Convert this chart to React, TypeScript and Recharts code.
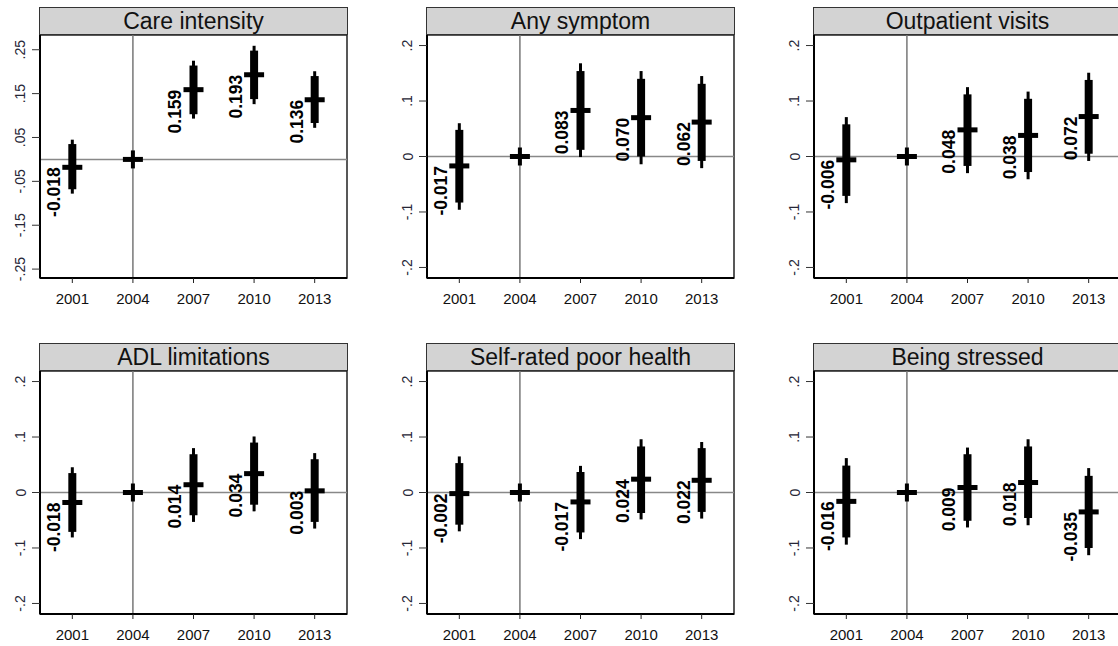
import React from 'react';
import { ComposedChart, Scatter, XAxis, YAxis, ErrorBar, ReferenceLine, ReferenceArea } from 'recharts';

const years = [2001, 2004, 2007, 2010, 2013];
const baseYear = 2004;

// Care intensity
const careEst = [-0.018, 0, 0.159, 0.193, 0.136];
const careLo95 = [-0.078, 0, 0.093, 0.126, 0.072];
const careHi95 = [0.045, 0, 0.225, 0.259, 0.201];
const careLo90 = [-0.068, 0, 0.103, 0.1375, 0.083];
const careHi90 = [0.035, 0, 0.214, 0.248, 0.19];

// Any symptom
const symEst = [-0.017, 0, 0.083, 0.07, 0.062];
const symLo95 = [-0.096, 0, -0.001, -0.014, -0.021];
const symHi95 = [0.06, 0, 0.168, 0.154, 0.145];
const symLo90 = [-0.083, 0, 0.012, 0.0, -0.008];
const symHi90 = [0.048, 0, 0.154, 0.14, 0.131];

// Outpatient visits
const outEst = [-0.006, 0, 0.048, 0.038, 0.072];
const outLo95 = [-0.084, 0, -0.03, -0.041, -0.008];
const outHi95 = [0.071, 0, 0.125, 0.117, 0.151];
const outLo90 = [-0.071, 0, -0.017, -0.028, 0.005];
const outHi90 = [0.058, 0, 0.112, 0.104, 0.138];

// ADL limitations
const adlEst = [-0.018, 0, 0.014, 0.034, 0.003];
const adlLo95 = [-0.081, 0, -0.053, -0.034, -0.065];
const adlHi95 = [0.0455, 0, 0.08, 0.101, 0.071];
const adlLo90 = [-0.071, 0, -0.041, -0.022, -0.053];
const adlHi90 = [0.035, 0, 0.069, 0.09, 0.06];

// Self-rated poor health
const srhEst = [-0.002, 0, -0.017, 0.024, 0.022];
const srhLo95 = [-0.07, 0, -0.084, -0.0485, -0.047];
const srhHi95 = [0.065, 0, 0.048, 0.096, 0.091];
const srhLo90 = [-0.058, 0, -0.072, -0.037, -0.035];
const srhHi90 = [0.053, 0, 0.037, 0.083, 0.08];

// Being stressed
const strEst = [-0.016, 0, 0.009, 0.018, -0.035];
const strLo95 = [-0.094, 0, -0.063, -0.059, -0.113];
const strHi95 = [0.062, 0, 0.081, 0.096, 0.044];
const strLo90 = [-0.081, 0, -0.051, -0.046, -0.1];
const strHi90 = [0.0485, 0, 0.069, 0.083, 0.03];

const careTicks = [-0.25, -0.15, -0.05, 0.05, 0.15, 0.25];
const careTickLabels = ['-.25', '-.15', '-.05', '.05', '.15', '.25'];
const stdTicks = [-0.2, -0.1, 0, 0.1, 0.2];
const stdTickLabels = ['-.2', '-.1', '0', '.1', '.2'];

const careDomain = [-0.2703, 0.2836];
const stdDomain = [-0.219, 0.219];
const xDomain = [1999.4, 2014.6];

const FONT = '"Liberation Sans", Arial, Helvetica, sans-serif';

type Panel = {
  title: string;
  est: number[];
  lo95: number[];
  hi95: number[];
  lo90: number[];
  hi90: number[];
  ticks: number[];
  tickLabels: string[];
  domain: number[];
};

const panels: Panel[] = [
  { title: 'Care intensity', est: careEst, lo95: careLo95, hi95: careHi95, lo90: careLo90, hi90: careHi90, ticks: careTicks, tickLabels: careTickLabels, domain: careDomain },
  { title: 'Any symptom', est: symEst, lo95: symLo95, hi95: symHi95, lo90: symLo90, hi90: symHi90, ticks: stdTicks, tickLabels: stdTickLabels, domain: stdDomain },
  { title: 'Outpatient visits', est: outEst, lo95: outLo95, hi95: outHi95, lo90: outLo90, hi90: outHi90, ticks: stdTicks, tickLabels: stdTickLabels, domain: stdDomain },
  { title: 'ADL limitations', est: adlEst, lo95: adlLo95, hi95: adlHi95, lo90: adlLo90, hi90: adlHi90, ticks: stdTicks, tickLabels: stdTickLabels, domain: stdDomain },
  { title: 'Self-rated poor health', est: srhEst, lo95: srhLo95, hi95: srhHi95, lo90: srhLo90, hi90: srhHi90, ticks: stdTicks, tickLabels: stdTickLabels, domain: stdDomain },
  { title: 'Being stressed', est: strEst, lo95: strLo95, hi95: strHi95, lo90: strLo90, hi90: strHi90, ticks: stdTicks, tickLabels: stdTickLabels, domain: stdDomain },
];

const Marker = (props: any) => {
  const { cx, cy, payload } = props;
  if (cx == null || cy == null) return null;
  const bx = cx - 12;
  return (
    <g>
      <rect x={cx - 10} y={cy - 2.5} width={20} height={5} fill="#000" />
      <rect x={cx - 2} y={cy - 9} width={4} height={18} fill="#000" />
      {payload.label ? (
        <text
          x={bx}
          y={cy}
          transform={`rotate(-90 ${bx} ${cy})`}
          textAnchor="end"
          fontFamily={FONT}
          fontWeight="bold"
          fontSize={17.5}
          fill="#000"
        >
          {payload.label}
        </text>
      ) : null}
    </g>
  );
};

const makeYTick = (ticks: number[], labels: string[]) => (props: any) => {
  const { x, y, payload } = props;
  const idx = ticks.findIndex((t) => Math.abs(t - payload.value) < 1e-9);
  const label = idx >= 0 ? labels[idx] : String(payload.value);
  const bx = x - 4.5;
  return (
    <text
      x={bx}
      y={y}
      transform={`rotate(-90 ${bx} ${y})`}
      textAnchor="middle"
      fontFamily={FONT}
      fontSize={14}
      fill="#262636"
    >
      {label}
    </text>
  );
};

const makeXTick = () => (props: any) => {
  const { x, y, payload } = props;
  return (
    <text x={x} y={y + 19} textAnchor="middle" fontFamily={FONT} fontSize={15} fill="#111">
      {payload.value}
    </text>
  );
};

const PANEL_W = 387;
const ROW_H = 336;
const CHART_H = 320;

function PanelChart({ p, col, row }: { p: Panel; col: number; row: number }) {
  const data = years.map((year, i) => ({
    year,
    est: p.est[i],
    e95: [p.est[i] - p.lo95[i], p.hi95[i] - p.est[i]],
    e90: [p.est[i] - p.lo90[i], p.hi90[i] - p.est[i]],
    label: year === baseYear ? null : p.est[i].toFixed(3),
  }));
  const left = col * PANEL_W;
  const top = row * ROW_H;
  return (
    <>
      <div style={{ position: 'absolute', left, top, width: PANEL_W, height: CHART_H }}>
        <ComposedChart width={PANEL_W} height={CHART_H} data={data} margin={{ top: 35, right: 40, bottom: 12, left: 0 }}>
          <XAxis
            type="number"
            dataKey="year"
            domain={xDomain}
            ticks={years}
            allowDataOverflow
            height={30}
            tickSize={5}
            tickMargin={2}
            axisLine={{ stroke: '#000', strokeWidth: 2 }}
            tickLine={{ stroke: '#222', strokeWidth: 1 }}
            tick={makeXTick()}
            interval={0}
          />
          <YAxis
            type="number"
            domain={p.domain}
            ticks={p.ticks}
            allowDataOverflow
            width={40}
            tickSize={8}
            tickMargin={2}
            axisLine={{ stroke: '#000', strokeWidth: 2 }}
            tickLine={{ stroke: '#333', strokeWidth: 1 }}
            tick={makeYTick(p.ticks, p.tickLabels)}
            interval={0}
          />
          <ReferenceArea x1={xDomain[0]} x2={xDomain[1]} y1={p.domain[0]} y2={p.domain[1]} fill="none" stroke="#222" strokeWidth={1.5} />
          <ReferenceLine x={baseYear} stroke="#777" strokeWidth={1.5} />
          <ReferenceLine y={0} stroke="#888" strokeWidth={1.5} />
          <Scatter dataKey="est" shape={<Marker />} isAnimationActive={false}>
            <ErrorBar dataKey="e95" direction="y" width={0} strokeWidth={3} stroke="#000" isAnimationActive={false} />
            <ErrorBar dataKey="e90" direction="y" width={0} strokeWidth={8} stroke="#000" isAnimationActive={false} />
          </Scatter>
        </ComposedChart>
      </div>
      <div
        style={{
          position: 'absolute',
          left: left + 39,
          top: top + 7,
          width: 309,
          height: 28,
          boxSizing: 'border-box',
          background: '#d3d3d3',
          border: '1.5px solid #333',
          textAlign: 'center',
          fontFamily: FONT,
          fontSize: 23,
          lineHeight: '26px',
          color: '#111',
          whiteSpace: 'nowrap',
        }}
      >
        {p.title}
      </div>
    </>
  );
}

export default function App() {
  return (
    <div style={{ position: 'absolute', left: 0, top: 0, width: 1118, height: 646, overflow: 'hidden', background: '#fff' }}>
      {panels.map((p, i) => (
        <PanelChart key={p.title} p={p} col={i % 3} row={Math.floor(i / 3)} />
      ))}
    </div>
  );
}
